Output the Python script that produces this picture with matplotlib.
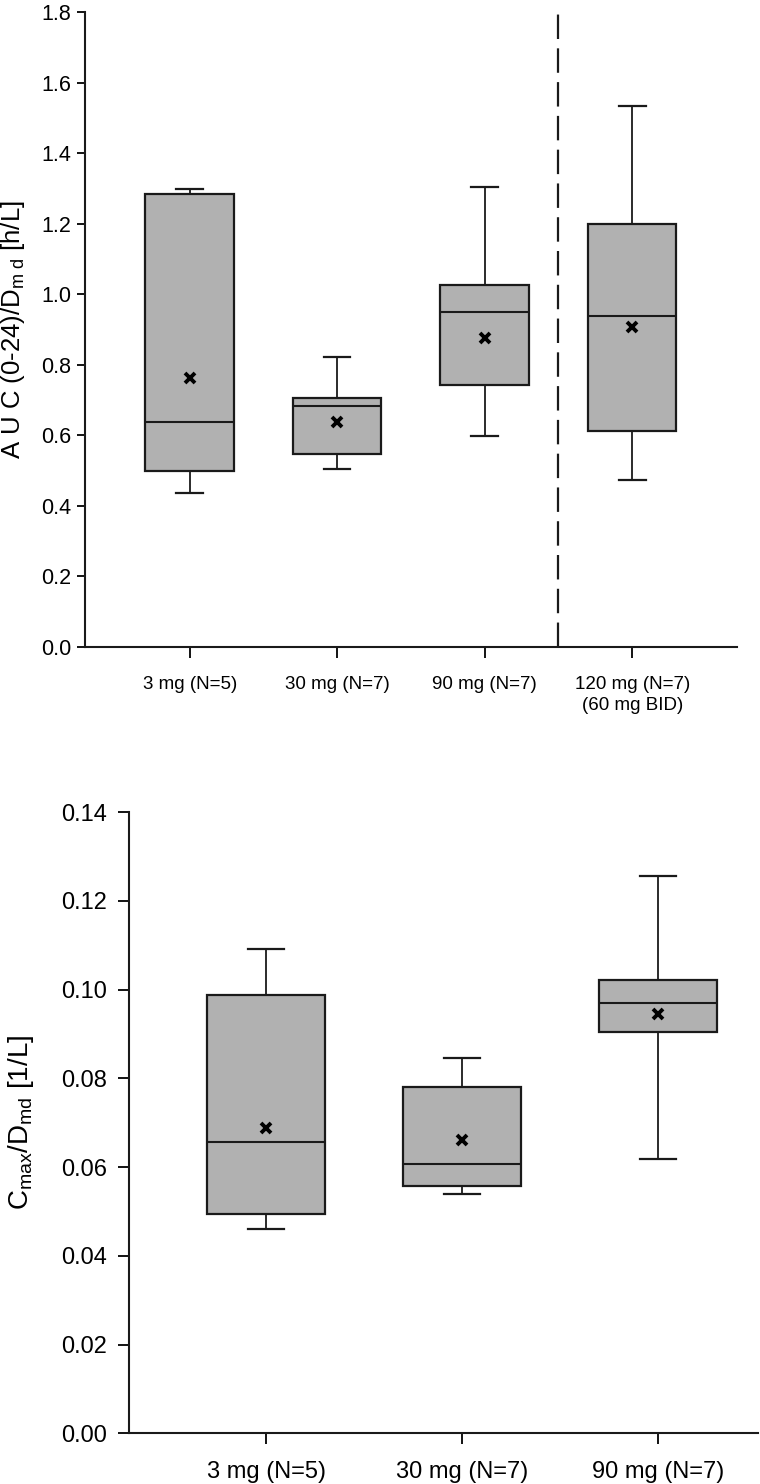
import matplotlib
matplotlib.use("Agg")
import matplotlib.pyplot as plt

plt.rcParams['font.family'] = ['Liberation Sans', 'DejaVu Sans']
plt.rcParams['mathtext.fontset'] = 'custom'
plt.rcParams['mathtext.rm'] = 'Liberation Sans'
plt.rcParams['mathtext.it'] = 'Liberation Sans'

# ---- data: top panel (AUC(0-24)/Dmd) ----
auc_labels = ["3 mg (N=5)", "30 mg (N=7)", "90 mg (N=7)", "120 mg (N=7)\n(60 mg BID)"]
auc_whislo = [0.436, 0.505, 0.599, 0.473]
auc_q1     = [0.499, 0.547, 0.742, 0.612]
auc_med    = [0.637, 0.682, 0.950, 0.938]
auc_q3     = [1.284, 0.705, 1.027, 1.199]
auc_whishi = [1.297, 0.821, 1.304, 1.535]
auc_mean   = [0.762, 0.639, 0.877, 0.906]
auc_ticks  = [0.0, 0.2, 0.4, 0.6, 0.8, 1.0, 1.2, 1.4, 1.6, 1.8]

# ---- data: bottom panel (Cmax/Dmd) ----
cmax_labels = ["3 mg (N=5)", "30 mg (N=7)", "90 mg (N=7)"]
cmax_whislo = [0.0460, 0.0540, 0.0618]
cmax_q1     = [0.0495, 0.0557, 0.0904]
cmax_med    = [0.0657, 0.0606, 0.0970]
cmax_q3     = [0.0989, 0.0780, 0.1022]
cmax_whishi = [0.1091, 0.0847, 0.1256]
cmax_mean   = [0.0688, 0.0662, 0.0946]
cmax_ticks  = [0.00, 0.02, 0.04, 0.06, 0.08, 0.10, 0.12, 0.14]

BOX_COLOR = '#b1b1b1'


def make_stats(lo, q1, med, q3, hi, mean):
    return [dict(whislo=a, q1=b, med=c, q3=d, whishi=e, mean=f, fliers=[])
            for a, b, c, d, e, f in zip(lo, q1, med, q3, hi, mean)]


def draw(ax, stats, positions):
    ax.bxp(stats, positions=positions, widths=0.6, capwidths=0.18,
           showmeans=True, showfliers=False, patch_artist=True,
           boxprops=dict(facecolor=BOX_COLOR, edgecolor='#1a1a1a', linewidth=1.6),
           medianprops=dict(color='#1a1a1a', linewidth=1.5),
           whiskerprops=dict(color='#1a1a1a', linewidth=1.3),
           capprops=dict(color='#1a1a1a', linewidth=1.6),
           meanprops=dict(marker='x', markeredgecolor='black', markersize=7.5,
                          markeredgewidth=2.8))
    for s in ['top', 'right']:
        ax.spines[s].set_visible(False)
    for s in ['left', 'bottom']:
        ax.spines[s].set_linewidth(1.5)
        ax.spines[s].set_color('#1a1a1a')


fig = plt.figure(figsize=(7.6, 14.84), dpi=100)

# ---------------- top panel ----------------
ax1 = fig.add_axes([0.1118, 0.5640, 0.8579, 0.4279])
pos1 = list(range(1, len(auc_labels) + 1))
draw(ax1, make_stats(auc_whislo, auc_q1, auc_med, auc_q3, auc_whishi, auc_mean), pos1)
ax1.set_xlim(0.29, 4.71)
ax1.set_ylim(0, 1.8)
ax1.set_yticks(auc_ticks)
ax1.set_yticklabels([f"{t:.1f}" for t in auc_ticks], fontsize=15.5)
ax1.set_xticks(pos1)
ax1.set_xticklabels(auc_labels, fontsize=13.5, linespacing=1.3)
ax1.tick_params(axis='y', length=6, width=1.3, pad=4)
ax1.tick_params(axis='x', length=8, width=1.3, pad=13)
ax1.axvline(3.5, ymin=0, ymax=1.01, color='#1a1a1a', linewidth=1.6,
            linestyle=(0, (11, 4.2)), clip_on=False)
ax1.set_ylabel(r'A U C (0-24)/D$_{\mathregular{m\ d}}$ [h/L]', fontsize=18.5)
ax1.yaxis.set_label_coords(-0.089, 0.5)

# ---------------- bottom panel ----------------
ax2 = fig.add_axes([0.1697, 0.03416, 0.8276, 0.4185])
pos2 = list(range(1, len(cmax_labels) + 1))
draw(ax2, make_stats(cmax_whislo, cmax_q1, cmax_med, cmax_q3, cmax_whishi, cmax_mean), pos2)
ax2.set_xlim(0.30, 3.51)
ax2.set_ylim(0, 0.14)
ax2.set_yticks(cmax_ticks)
ax2.set_yticklabels([f"{t:.2f}" for t in cmax_ticks], fontsize=17)
ax2.set_xticks(pos2)
ax2.set_xticklabels(cmax_labels, fontsize=17)
ax2.tick_params(axis='y', length=8, width=1.3, pad=8)
ax2.tick_params(axis='x', length=8, width=1.3, pad=12)
ax2.set_ylabel(r'C$_{\mathregular{max}}$/D$_{\mathregular{md}}$ [1/L]', fontsize=20)
ax2.yaxis.set_label_coords(-0.148, 0.5)

fig.savefig('out.png', dpi=100)
